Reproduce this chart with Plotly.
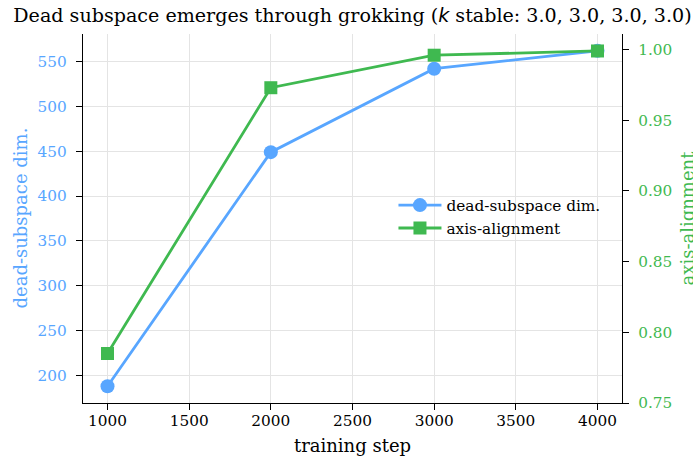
import plotly.graph_objects as go

# training checkpoints and measured metrics
steps = [1000, 2000, 3000, 4000]
dead_dim = [188, 449, 542, 562]
axis_alignment = [0.785, 0.973, 0.996, 0.999]
k_values = [3.0, 3.0, 3.0, 3.0]

BLUE = "#58a6ff"
GREEN = "#3fb950"
FONT = "DejaVu Serif"
TICK_SIZE = 15.3
LABEL_SIZE = 18
TITLE_SIZE = 19.1

fig = go.Figure()
fig.add_trace(go.Scatter(
    x=steps, y=dead_dim, name="dead-subspace dim.", mode="lines+markers",
    line=dict(color=BLUE, width=2.8),
    marker=dict(symbol="circle", size=14, color=BLUE),
    yaxis="y",
))
fig.add_trace(go.Scatter(
    x=steps, y=axis_alignment, name="axis-alignment", mode="lines+markers",
    line=dict(color=GREEN, width=2.8),
    marker=dict(symbol="square", size=13, color=GREEN),
    yaxis="y2",
))

k_text = ", ".join(f"{v:.1f}" for v in k_values)
title = ("Dead subspace emerges through grokking ("
         "<span style=\"font-family:DejaVu Sans;font-style:italic\">k</span>"
         f" stable: {k_text})")

W, H = 693, 461
L, R, T, B = 83, 71, 34, 58

fig.update_layout(
    width=W, height=H,
    margin=dict(l=L, r=R, t=T, b=B, pad=0, autoexpand=False),
    paper_bgcolor="white", plot_bgcolor="white",
    font=dict(family=FONT, size=TICK_SIZE, color="black"),
    title=dict(text=title, x=0.5, xref="paper", y=1 - 15 / H, yref="container",
               xanchor="center", yanchor="middle", automargin=False,
               font=dict(family=FONT, size=TITLE_SIZE, color="black")),
    xaxis=dict(
        range=[850, 4150], tickvals=[1000, 1500, 2000, 2500, 3000, 3500, 4000],
        showgrid=True, gridcolor="#e4e4e4", gridwidth=1,
        showline=True, linecolor="black", linewidth=1.3, mirror=False,
        ticks="outside", ticklen=6, tickcolor="black", tickwidth=1.2,
        ticklabelstandoff=-3, automargin=False,
        tickfont=dict(family=FONT, size=TICK_SIZE, color="black"),
        title=dict(text="training step", font=dict(family=FONT, size=LABEL_SIZE),
                   standoff=10),
        zeroline=False,
    ),
    yaxis=dict(
        range=[169.3, 580.7], tickvals=[200, 250, 300, 350, 400, 450, 500, 550],
        showgrid=True, gridcolor="#e4e4e4", gridwidth=1,
        showline=True, linecolor="black", linewidth=1.3,
        ticks="outside", ticklen=6, tickcolor="black", tickwidth=1.2,
        ticklabelstandoff=6, automargin=False,
        tickfont=dict(family=FONT, size=TICK_SIZE, color=BLUE),
        zeroline=False,
    ),
    yaxis2=dict(
        range=[0.75, 1.011], tickvals=[0.75, 0.80, 0.85, 0.90, 0.95, 1.00],
        tickformat=".2f", overlaying="y", side="right",
        showgrid=False,
        showline=True, linecolor="black", linewidth=1.3,
        ticks="outside", ticklen=6, tickcolor="black", tickwidth=1.2,
        ticklabelstandoff=6, automargin=False,
        tickfont=dict(family=FONT, size=TICK_SIZE, color=GREEN),
        zeroline=False,
    ),
    legend=dict(
        x=0.576, y=0.505, xanchor="left", yanchor="middle",
        bgcolor="rgba(0,0,0,0)", borderwidth=0,
        font=dict(family=FONT, size=TICK_SIZE, color="black"),
        tracegroupgap=0, itemwidth=43,
    ),
    showlegend=True,
)

# rotated axis titles placed in pixel terms relative to the plot area
plot_w = W - L - R
fig.add_annotation(text="dead-subspace dim.", textangle=-90,
                   x=(20 - L) / plot_w, xref="paper", xanchor="center",
                   y=0.5, yref="paper", yanchor="middle",
                   showarrow=False, font=dict(family=FONT, size=LABEL_SIZE, color=BLUE))
fig.add_annotation(text="axis-alignment", textangle=-90,
                   x=(687 - L) / plot_w, xref="paper", xanchor="center",
                   y=0.5, yref="paper", yanchor="middle",
                   showarrow=False, font=dict(family=FONT, size=LABEL_SIZE, color=GREEN))

fig.write_html("out.html")
